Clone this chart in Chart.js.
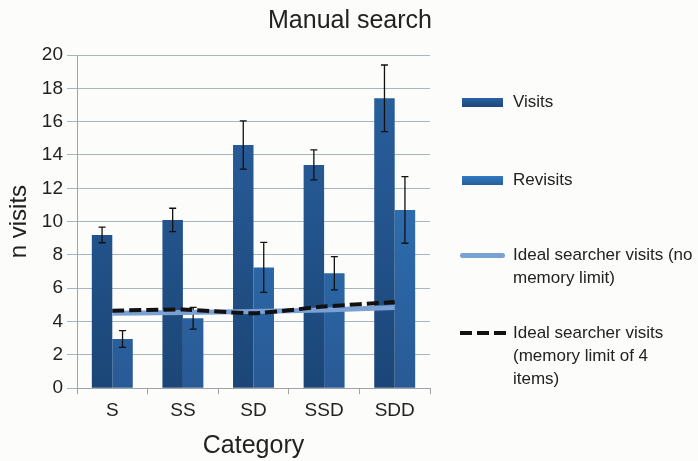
<!DOCTYPE html>
<html lang="en">
<head>
    <meta charset="UTF-8">
    <title>Manual search</title>
    <style>
        body {
            margin: 0;
            background: #fcfcfa;
            font-family: "Liberation Sans", Arial, sans-serif;
        }
        .wrap {
            position: relative;
            width: 698px;
            height: 461px;
            overflow: hidden;
        }
        .title {
            position: absolute;
            left: 0;
            top: 5px;
            width: 700px;
            text-align: center;
            font-size: 25px;
            color: #222;
        }
        .legend-item {
            position: absolute;
            left: 513px;
            width: 220px;
            font-size: 17px;
            line-height: 23px;
            color: #222;
            white-space: nowrap;
        }
        .swatch {
            position: absolute;
        }
    </style>
</head>
<body>
    <div class="wrap">
        <canvas id="mychart" width="698" height="461"></canvas>

        <div class="title">Manual search</div>

        <!-- 범례 -->
        <div class="legend">
            <div class="swatch" style="left:462px; top:98px; width:41px; height:9px; background:linear-gradient(#2b62a2,#1b4779);"></div>
            <div class="legend-item" style="top:90px;">Visits</div>

            <div class="swatch" style="left:462px; top:176px; width:41px; height:9px; background:linear-gradient(#2f7bc3,#2a5e9a);"></div>
            <div class="legend-item" style="top:168px;">Revisits</div>

            <div class="swatch" style="left:460px; top:253px; width:45px; height:5px; border-radius:3px; background:#7ba0d4;"></div>
            <div class="legend-item" style="top:243px;">Ideal searcher visits (no<br>memory limit)</div>

            <div class="swatch" style="left:460px; top:331px; width:47px; height:4px; background:repeating-linear-gradient(90deg,#111 0 12px,transparent 12px 17px);"></div>
            <div class="legend-item" style="top:321px;">Ideal searcher visits<br>(memory limit of 4<br>items)</div>
        </div>
    </div>

    <script src="https://cdn.jsdelivr.net/npm/chart.js@4/dist/chart.umd.min.js"></script>
    <script>
        // 데이터
        const categories = ['S', 'SS', 'SD', 'SSD', 'SDD'];
        const visits = [9.2, 10.1, 14.6, 13.4, 17.4];
        const visitsErr = [0.47, 0.7, 1.45, 0.9, 2.0];
        const revisits = [2.95, 4.2, 7.25, 6.9, 10.7];
        const revisitsErr = [0.5, 0.65, 1.5, 1.0, 2.0];
        const idealNoLimit = [4.5, 4.55, 4.6, 4.7, 4.85];
        const idealLimit4 = [4.65, 4.72, 4.5, 4.9, 5.17];
        const yTicks = [0, 2, 4, 6, 8, 10, 12, 14, 16, 18, 20];

        const FONT = '"Liberation Sans", Arial, sans-serif';

        // 세로 그라데이션
        function grad(top, bottom) {
            return (ctx) => {
                const area = ctx.chart.chartArea;
                if (!area) return top;
                const g = ctx.chart.ctx.createLinearGradient(0, area.top, 0, area.bottom);
                g.addColorStop(0, top);
                g.addColorStop(1, bottom);
                return g;
            };
        }

        // 오차막대 그리기
        const errorBars = {
            id: 'errorBars',
            afterDatasetDraw(chart, args) {
                if (args.index !== 0) return;
                const ctx = chart.ctx;
                const y = chart.scales.y;
                const sets = [[0, visits, visitsErr], [1, revisits, revisitsErr]];
                ctx.save();
                ctx.strokeStyle = '#111';
                ctx.lineWidth = 1.3;
                for (const [di, vals, errs] of sets) {
                    const meta = chart.getDatasetMeta(di);
                    meta.data.forEach((bar, i) => {
                        const x = bar.x;
                        const hi = y.getPixelForValue(vals[i] + errs[i]);
                        const lo = y.getPixelForValue(vals[i] - errs[i]);
                        ctx.beginPath();
                        ctx.moveTo(x, hi); ctx.lineTo(x, lo);
                        ctx.moveTo(x - 3.5, hi); ctx.lineTo(x + 3.5, hi);
                        ctx.moveTo(x - 3.5, lo); ctx.lineTo(x + 3.5, lo);
                        ctx.stroke();
                    });
                }
                ctx.restore();
            }
        };

        const mychart = document.getElementById('mychart');

        new Chart(mychart, {
            type: 'bar',
            data: {
                labels: categories,
                datasets: [
                    {
                        label: 'Visits',
                        data: visits,
                        order: 2,
                        backgroundColor: grad('#2b62a2', '#1b4677'),
                        borderWidth: 0,
                        categoryPercentage: 0.58,
                        barPercentage: 1,
                    },
                    {
                        label: 'Revisits',
                        data: revisits,
                        order: 2,
                        backgroundColor: grad('#2f7bc3', '#295a95'),
                        borderWidth: 0,
                        categoryPercentage: 0.58,
                        barPercentage: 1,
                    },
                    {
                        type: 'line',
                        label: 'Ideal searcher visits (no memory limit)',
                        data: idealNoLimit,
                        order: 1,
                        borderColor: '#7ba0d4',
                        borderWidth: 5,
                        pointRadius: 0,
                        tension: 0,
                    },
                    {
                        type: 'line',
                        label: 'Ideal searcher visits (memory limit of 4 items)',
                        data: idealLimit4,
                        order: 0,
                        borderColor: '#111',
                        borderWidth: 4,
                        borderDash: [12, 5],
                        pointRadius: 0,
                        tension: 0.2,
                    },
                ],
            },
            plugins: [errorBars],
            options: {
                responsive: false,
                animation: false,
                layout: {
                    padding: { left: 0, right: 268, top: 55, bottom: 0 },
                },
                plugins: {
                    legend: { display: false },
                    tooltip: { enabled: false },
                    title: { display: false },
                },
                scales: {
                    x: {
                        grid: {
                            offset: true,
                            drawOnChartArea: false,
                            tickLength: 6,
                            color: '#a0a4a8',
                        },
                        border: { color: '#a0a4a8', width: 1 },
                        ticks: {
                            color: '#222',
                            padding: 5,
                            font: { family: FONT, size: 19 },
                        },
                        title: {
                            display: true,
                            text: 'Category',
                            color: '#222',
                            font: { family: FONT, size: 25 },
                            padding: { top: 4, bottom: 0 },
                        },
                    },
                    y: {
                        min: 0,
                        max: 20,
                        afterBuildTicks(scale) {
                            scale.ticks = yTicks.map(v => ({ value: v }));
                        },
                        afterFit(scale) {
                            scale.width = 77;
                        },
                        grid: {
                            color: '#aab4be',
                            tickLength: 10,
                        },
                        border: { color: '#a0a4a8', width: 1 },
                        ticks: {
                            color: '#222',
                            padding: 4,
                            font: { family: FONT, size: 19 },
                        },
                        title: {
                            display: true,
                            text: 'n visits',
                            color: '#222',
                            font: { family: FONT, size: 24 },
                            padding: { top: 5, bottom: 0 },
                        },
                    },
                },
            },
        });
    </script>
</body>
</html>
